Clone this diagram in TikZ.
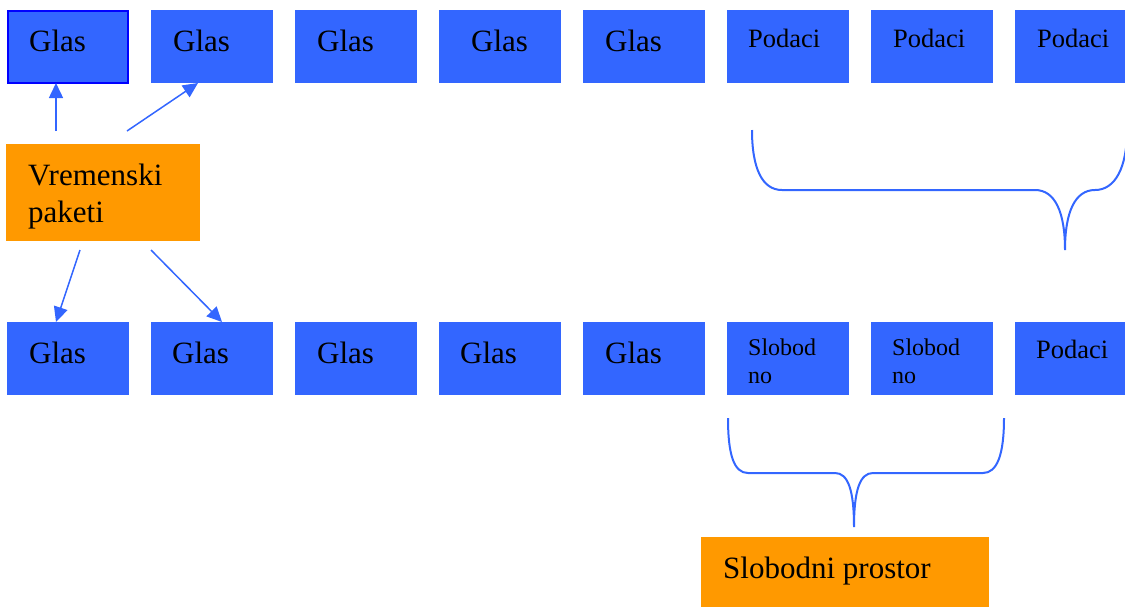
\documentclass[tikz,border=0pt]{standalone}
\usepackage{fontspec}
\setmainfont{Liberation Serif}
\usetikzlibrary{arrows.meta}

\definecolor{boxblue}{RGB}{51,102,255}
\definecolor{edgeblue}{RGB}{0,0,255}
\definecolor{pktorange}{RGB}{255,153,0}

\tikzset{
  cell/.style={fill=boxblue, draw=none, minimum width=122pt, minimum height=73pt,
               inner sep=0pt, outer sep=0pt, anchor=north west},
  tag/.style={fill=pktorange, draw=none, inner sep=0pt, outer sep=0pt, anchor=north west},
  bigtxt/.style={font=\fontsize{31}{37}\selectfont, inner sep=0pt, anchor=base west},
  midtxt/.style={font=\fontsize{26.5}{30}\selectfont, inner sep=0pt, anchor=base west},
  smalltxt/.style={font=\fontsize{24}{28}\selectfont, inner sep=0pt, anchor=base west},
  link/.style={draw=boxblue, line width=1.5pt, -{Triangle[length=15pt,width=14pt]}},
  bracket/.style={draw=boxblue, line width=2pt},
}

\begin{document}
\begin{tikzpicture}[x=1pt,y=-1pt]
\useasboundingbox (0,0) rectangle (1125,606);
\clip (0,0) rectangle (1125,606);

% upper row: voice slots followed by data slots
\node[cell, draw=edgeblue, line width=2pt, minimum width=120pt, minimum height=72pt] (g1) at (8,11) {};
\node[bigtxt] (g1txt) at (29,51) {Glas};
\foreach \i/\dx in {2/22,3/22,4/32,5/22} {
  \node[cell] (g\i) at ({7+144*(\i-1)},10) {};
  \node[bigtxt] (g\i txt) at ([shift={(\dx,41)}]g\i.north west) {Glas};
}
\foreach \i/\dx in {6/21,7/22,8/22} {
  \node[cell] (g\i) at ({7+144*(\i-1)},10) {};
  \node[midtxt] (g\i txt) at ([shift={(\dx,37)}]g\i.north west) {Podaci};
}

% lower row: voice slots, free slots and one data slot
\foreach \i/\dx in {1/22,2/21,3/22,4/21,5/22} {
  \node[cell] (b\i) at ({7+144*(\i-1)},322) {};
  \node[bigtxt] (b\i txt) at ([shift={(\dx,41)}]b\i.north west) {Glas};
}
\foreach \i/\dx in {6/21,7/21} {
  \node[cell] (b\i) at ({7+144*(\i-1)},322) {};
  \node[smalltxt] (b\i txt) at ([shift={(\dx,33)}]b\i.north west)
    {\vtop{\hbox{Slobod}\hbox{no}}};
}
\node[cell] (b8) at (1015,322) {};
\node[midtxt] (b8txt) at ([shift={(21,36)}]b8.north west) {Podaci};

% labels
\node[tag, minimum width=194pt, minimum height=97pt] (vp) at (6,144) {};
\node[bigtxt] (vptxt) at ([shift={(22,41)}]vp.north west)
  {\vtop{\hbox{Vremenski}\hbox{paketi}}};

\node[tag, minimum width=288pt, minimum height=75pt] (sp) at (701,537) {};
\node[bigtxt] (sptxt) at ([shift={(22,41)}]sp.north west) {Slobodni prostor};

% arrows from the time-packet label to the voice slots
\coordinate (a1) at (56,131);
\coordinate (a2) at (127,131);
\coordinate (a3) at (80,250);
\coordinate (a4) at (151,250);
\draw[link] (a1) -- (a1 |- g1.south);
\draw[link] (a2) -- ([xshift=47pt]g2.south west);
\draw[link] (a3) -- ([xshift=49pt]b1.north west);
\draw[link] (a4) -- ([xshift=71pt]b2.north west);

% brace under the upper data slots
\draw[bracket] (752,130) .. controls (752,168) and (762,190) .. (782,190)
  -- (1035,190) .. controls (1055,190) and (1065,212) .. (1065,250)
  .. controls (1065,212) and (1075,190) .. (1095,190)
  .. controls (1115,190) and (1127,168) .. (1127,130);

% brace under the free slots
\draw[bracket] (728,418) .. controls (728,455) and (734,473) .. (748,473)
  -- (835,473) .. controls (848,473) and (854,490) .. (854,527)
  .. controls (854,490) and (860,473) .. (873,473)
  -- (983,473) .. controls (997,473) and (1004,455) .. (1004,418);
\end{tikzpicture}
\end{document}
